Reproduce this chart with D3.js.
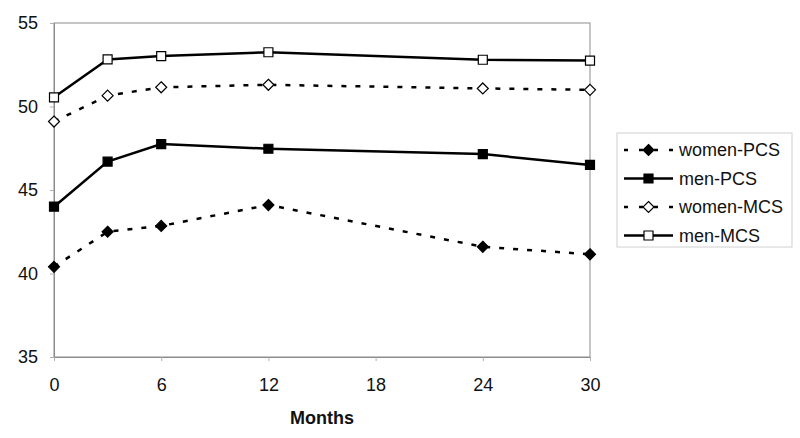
<!DOCTYPE html>
<html><head><meta charset="utf-8">
<script src="https://cdn.jsdelivr.net/npm/d3@7"></script>
<style>body{margin:0;background:#fff}svg{display:block}</style>
</head><body>
<svg id="c" width="800" height="438"></svg>
<script>
const months = [0, 3, 6, 12, 24, 30];
const xTicks = [0, 6, 12, 18, 24, 30];
const yTicks = [35, 40, 45, 50, 55];
const womenPCS = [40.4, 42.5, 42.85, 44.1, 41.6, 41.15];
const menPCS = [44.0, 46.7, 47.75, 47.47, 47.15, 46.5];
const womenMCS = [49.1, 50.65, 51.15, 51.3, 51.08, 51.0];
const menMCS = [50.55, 52.82, 53.02, 53.25, 52.8, 52.75];
const seriesNames = ["women-PCS", "men-PCS", "women-MCS", "men-MCS"];

const series = [
  {name: seriesNames[0], values: womenPCS, dashed: true, marker: "diamond", fill: "#000"},
  {name: seriesNames[1], values: menPCS, dashed: false, marker: "square", fill: "#000"},
  {name: seriesNames[2], values: womenMCS, dashed: true, marker: "diamond", fill: "#fff"},
  {name: seriesNames[3], values: menMCS, dashed: false, marker: "square", fill: "#fff"}
];

const svg = d3.select("#c");
const L = 54, R = 590, T = 23, B = 357;
const x = d3.scaleLinear().domain([0, 30]).range([L, R]);
const y = d3.scaleLinear().domain([35, 55]).range([B, T]);
const font = "Liberation Sans, Arial, sans-serif";

svg.append("rect").attr("x", L).attr("y", T).attr("width", R - L).attr("height", B - T)
  .attr("fill", "none").attr("stroke", "#8c8c8c").attr("stroke-width", 1);

const yAxis = svg.append("g").attr("transform", `translate(${L},0)`)
  .call(d3.axisLeft(y).tickValues(yTicks).tickSize(4).tickPadding(12).tickFormat(d3.format("d")));
const xAxis = svg.append("g").attr("transform", `translate(0,${B})`)
  .call(d3.axisBottom(x).tickValues(xTicks).tickSize(4).tickPadding(17).tickFormat(d3.format("d")));
[yAxis, xAxis].forEach(g => {
  g.select(".domain").attr("stroke", "#8c8c8c");
  g.selectAll(".tick line").attr("stroke", "#b0b0b0");
  g.selectAll("text").attr("font-family", font).attr("font-size", 18).attr("fill", "#111");
});

svg.append("text").attr("x", (L + R) / 2).attr("y", 424).attr("text-anchor", "middle")
  .attr("font-family", font).attr("font-size", 18).attr("font-weight", "bold").attr("fill", "#111")
  .text("Months");

const line = d3.line().x((d, i) => x(months[i])).y(d => y(d));

function drawMarker(g, s, cx, cy) {
  const p = d3.path();
  if (s.marker === "diamond") {
    const r = 5.5;
    p.moveTo(0, -r); p.lineTo(r, 0); p.lineTo(0, r); p.lineTo(-r, 0); p.closePath();
  } else {
    const h = 4.5;
    p.rect(-h, -h, 2 * h, 2 * h);
  }
  g.append("path").attr("d", p.toString())
    .attr("transform", `translate(${cx},${cy})`)
    .attr("fill", s.fill).attr("stroke", "#000").attr("stroke-width", 1.2);
}

series.forEach(s => {
  svg.append("path").datum(s.values).attr("d", line).attr("fill", "none")
    .attr("stroke", "#000").attr("stroke-width", 2.5)
    .attr("stroke-dasharray", s.dashed ? "5,9" : null);
  const g = svg.append("g");
  s.values.forEach((v, i) => drawMarker(g, s, x(months[i]), y(v)));
});

const lg = svg.append("g");
lg.append("rect").attr("x", 617).attr("y", 133).attr("width", 175).attr("height", 114)
  .attr("fill", "#fff").attr("stroke", "#d0d0d0").attr("stroke-width", 1);
series.forEach((s, i) => {
  const yy = 150 + i * 28.5;
  lg.append("line").attr("x1", 624).attr("x2", 673).attr("y1", yy).attr("y2", yy)
    .attr("stroke", "#000").attr("stroke-width", 2.5)
    .attr("stroke-dasharray", s.dashed ? "4,11" : null);
  drawMarker(lg, s, 648.5, yy);
  lg.append("text").attr("x", 679).attr("y", yy).attr("dy", "0.35em")
    .attr("font-family", font).attr("font-size", 18).attr("fill", "#111").text(s.name);
});
</script>
</body></html>
